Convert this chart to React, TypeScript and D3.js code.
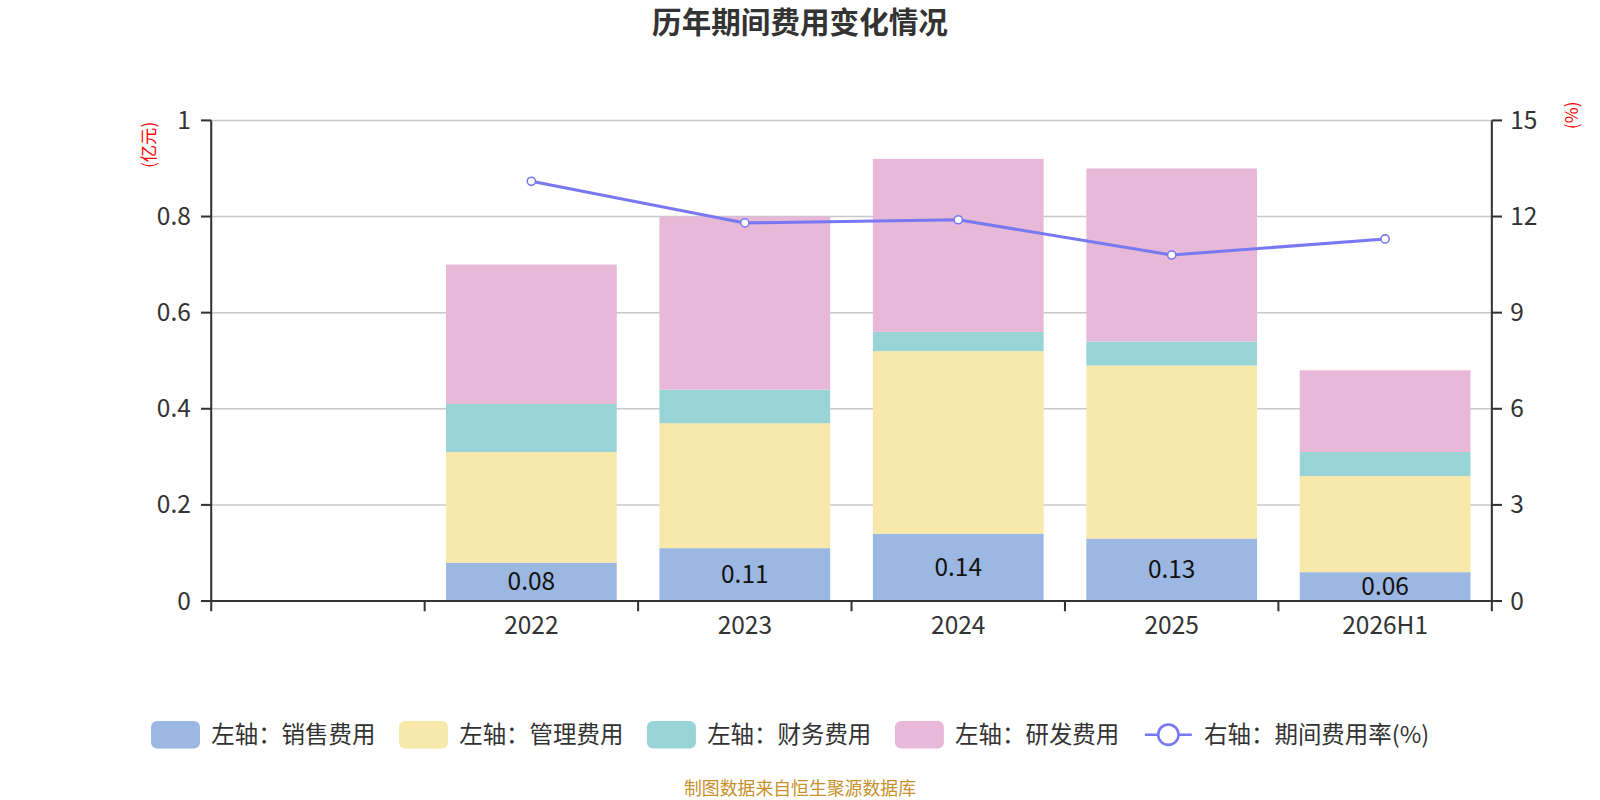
import * as d3 from 'd3'

const categories = ['', '2022', '2023', '2024', '2025', '2026H1']
const sales = [null, 0.08, 0.11, 0.14, 0.13, 0.06]
const admin = [null, 0.23, 0.26, 0.38, 0.36, 0.2]
const finance = [null, 0.1, 0.07, 0.04, 0.05, 0.05]
const rnd = [null, 0.29, 0.36, 0.36, 0.36, 0.17]
const rate = [null, 13.1, 11.8, 11.9, 10.8, 11.3]
const leftTicks = [0, 0.2, 0.4, 0.6, 0.8, 1]
const rightTicks = [0, 3, 6, 9, 12, 15]

const seriesNames = ['左轴：销售费用', '左轴：管理费用', '左轴：财务费用', '左轴：研发费用']
const colors = ['#9cb8e2', '#f8e8a9', '#98d4d5', '#e8b8d8']
const lineColor = '#7878f2'
const font = '"Noto Sans CJK SC", "Noto Sans", sans-serif'

// drawn in a 1568x784 design space, scaled to 1600x800
const W = 1568
const H = 784
const margin = { top: 118, right: 106, bottom: 195, left: 207 }
const innerW = W - margin.left - margin.right
const innerH = H - margin.top - margin.bottom

export default function App() {
  const x = d3.scaleBand<string>().domain(categories).range([0, innerW])
  const yL = d3.scaleLinear().domain([0, 1]).range([innerH, 0])
  const yR = d3.scaleLinear().domain([0, 15]).range([innerH, 0])
  const barW = x.bandwidth() * 0.8

  const stacks = [sales, admin, finance, rnd]
  const segs: { i: number; s: number; y0: number; y1: number }[] = []
  categories.forEach((_, i) => {
    let acc = 0
    stacks.forEach((arr, s) => {
      const v = arr[i]
      if (v == null) return
      segs.push({ i, s, y0: acc, y1: acc + v })
      acc += v
    })
  })

  const pts = categories
    .map((c, i) => ({ c, v: rate[i] }))
    .filter((d) => d.v != null) as { c: string; v: number }[]
  const line = d3
    .line<{ c: string; v: number }>()
    .x((d) => x(d.c)! + x.bandwidth() / 2)
    .y((d) => yR(d.v))

  const boundaries = d3.range(categories.length + 1).map((k) => k * x.step())

  return (
    <svg
      width={1600}
      height={800}
      viewBox={`0 0 ${W} ${H}`}
      style={{ position: 'absolute', left: 0, top: 0, fontFamily: font }}
    >
      <rect width={W} height={H} fill="#fff" />
      <text x={784} y={32} textAnchor="middle" fontSize={29} fontWeight="bold" fill="#333">
        历年期间费用变化情况
      </text>
      <g transform={`translate(${margin.left},${margin.top})`}>
        {leftTicks.map((t) => (
          <g key={t}>
            <line x1={0} x2={innerW} y1={yL(t)} y2={yL(t)} stroke="#c8c8c8" strokeWidth={1.5} />
            <line x1={-10} x2={0} y1={yL(t)} y2={yL(t)} stroke="#333" strokeWidth={2} />
            <text x={-20} y={yL(t)} dy="0.35em" textAnchor="end" fontSize={24} fill="#333">
              {t}
            </text>
          </g>
        ))}
        {rightTicks.map((t) => (
          <g key={t}>
            <line x1={innerW} x2={innerW + 10} y1={yR(t)} y2={yR(t)} stroke="#333" strokeWidth={2} />
            <text x={innerW + 18} y={yR(t)} dy="0.35em" fontSize={24} fill="#333">
              {t}
            </text>
          </g>
        ))}
        {segs.map((d) => (
          <rect
            key={`${d.i}-${d.s}`}
            x={x(categories[d.i])! + (x.bandwidth() - barW) / 2}
            y={yL(d.y1)}
            width={barW}
            height={yL(d.y0) - yL(d.y1)}
            fill={colors[d.s]}
          />
        ))}
        {segs
          .filter((d) => d.s === 0)
          .map((d) => (
            <text
              key={`l${d.i}`}
              x={x(categories[d.i])! + x.bandwidth() / 2}
              y={(yL(d.y0) + yL(d.y1)) / 2}
              dy="0.35em"
              textAnchor="middle"
              fontSize={24}
              fill="#111"
            >
              {d3.format('.2f')(d.y1 - d.y0)}
            </text>
          ))}
        <line x1={0} x2={0} y1={0} y2={innerH} stroke="#333" strokeWidth={2} />
        <line x1={innerW} x2={innerW} y1={0} y2={innerH} stroke="#333" strokeWidth={2} />
        <line x1={0} x2={innerW} y1={innerH} y2={innerH} stroke="#333" strokeWidth={2} />
        {boundaries.map((b) => (
          <line key={b} x1={b} x2={b} y1={innerH} y2={innerH + 10} stroke="#333" strokeWidth={2} />
        ))}
        {categories.map((c) => (
          <text key={c} x={x(c)! + x.bandwidth() / 2} y={innerH + 32} textAnchor="middle" fontSize={24} fill="#333">
            {c}
          </text>
        ))}
        <path d={line(pts)!} fill="none" stroke={lineColor} strokeWidth={3} />
        {pts.map((d) => (
          <circle
            key={d.c}
            cx={x(d.c)! + x.bandwidth() / 2}
            cy={yR(d.v)}
            r={4}
            fill="#fff"
            stroke={lineColor}
            strokeWidth={1.5}
          />
        ))}
      </g>
      <text transform="translate(146,142) rotate(-90)" textAnchor="middle" dy="0.35em" fontSize={17} fill="red">
        (亿元)
      </text>
      <text transform="translate(1540,113) rotate(-90)" textAnchor="middle" dy="0.35em" fontSize={17} fill="red">
        (%)
      </text>
      <g fontSize={23} fill="#333">
        {seriesNames.map((n, k) => (
          <g key={n} transform={`translate(${148 + k * 243},720)`}>
            <rect x={0} y={-13.5} width={48} height={27} rx={6} fill={colors[k]} />
            <text x={59} y={0} dy="0.35em">
              {n}
            </text>
          </g>
        ))}
        <g transform="translate(1120,720)">
          <line x1={2} x2={48} y1={0} y2={0} stroke={lineColor} strokeWidth={2.5} />
          <circle cx={25} cy={0} r={10} fill="#fff" stroke={lineColor} strokeWidth={2.5} />
          <text x={60} y={0} dy="0.35em">
            右轴：期间费用率(%)
          </text>
        </g>
      </g>
      <text x={784} y={779} textAnchor="middle" fontSize={17.5} fill="#c8912a">
        制图数据来自恒生聚源数据库
      </text>
    </svg>
  )
}
